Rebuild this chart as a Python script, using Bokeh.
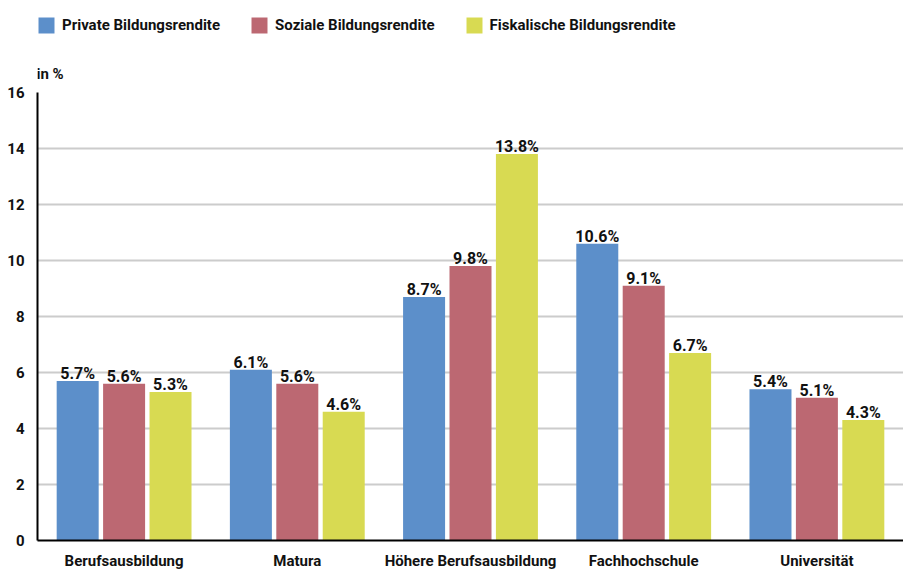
from bokeh.plotting import figure
from bokeh.models import ColumnDataSource, Legend, LegendItem, FactorRange, Label
from bokeh.layouts import column
from bokeh.transform import dodge
from bokeh.core.properties import value
from bokeh.embed import file_html
from bokeh.resources import INLINE

categories = ["Berufsausbildung", "Matura", "Höhere Berufsausbildung", "Fachhochschule", "Universität"]
private = [5.7, 6.1, 8.7, 10.6, 5.4]
sozial = [5.6, 5.6, 9.8, 9.1, 5.1]
fiskal = [5.3, 4.6, 13.8, 6.7, 4.3]
series_names = ["Private Bildungsrendite", "Soziale Bildungsrendite", "Fiskalische Bildungsrendite"]
colors = ["#5C8FCA", "#BC6872", "#D8DA52"]
y_ticks = [0, 2, 4, 6, 8, 10, 12, 14, 16]
unit_label = "in %"

FONT = "Roboto"
TXT = "#111111"

src = ColumnDataSource(data=dict(
    cat=categories,
    private=private, sozial=sozial, fiskal=fiskal,
    private_lbl=[f"{v:.1f}%" for v in private],
    sozial_lbl=[f"{v:.1f}%" for v in sozial],
    fiskal_lbl=[f"{v:.1f}%" for v in fiskal],
))
keys = ["private", "sozial", "fiskal"]

# ---- header figure: legend + unit label ----
head = figure(width=903, height=82, x_range=FactorRange(*categories), y_range=(100, 101),
              output_backend="svg", toolbar_location=None,
              x_axis_location=None, y_axis_location=None,
              min_border_left=37, min_border_right=0, min_border_top=0, min_border_bottom=0)
head.outline_line_color = None
head.xgrid.grid_line_color = None
head.ygrid.grid_line_color = None

proxies = []
for key, col in zip(keys, colors):
    r = head.vbar(x="cat", top=key, width=0.2, source=src, fill_color=col, line_color=None)
    r.visible = False
    proxies.append(r)

legend = Legend(items=[LegendItem(label=n, renderers=[r]) for n, r in zip(series_names, proxies)],
                orientation="horizontal", location=(-1, 47),
                glyph_width=20, glyph_height=20, label_standoff=6, spacing=29,
                padding=0, margin=0, border_line_color=None, background_fill_alpha=0,
                inactive_fill_alpha=0,
                label_text_font=FONT, label_text_font_size="15px", label_text_font_style="bold",
                label_text_color=TXT, label_height=20)
head.add_layout(legend, "center")

head.add_layout(Label(x=-1, y=9, x_units="screen", y_units="screen", text=unit_label,
                      text_font=FONT, text_font_size="15px", text_font_style="bold",
                      text_color=TXT, text_baseline="middle", text_align="left"))

# ---- main chart ----
p = figure(x_range=FactorRange(*categories, range_padding=0), y_range=(0, 16),
           width=903, height=490, output_backend="svg", toolbar_location=None,
           min_border_left=37, min_border_right=0, min_border_top=10, min_border_bottom=30)
p.x_range.range_padding = 0
p.outline_line_color = None

offsets = [-0.268, 0.0, 0.268]
for off, key, col in zip(offsets, keys, colors):
    p.vbar(x=dodge("cat", off, range=p.x_range), top=key, width=0.2425,
           source=src, fill_color=col, line_color=None)
    p.text(x=dodge("cat", off, range=p.x_range), y=key, text=key + "_lbl", source=src,
           text_align="center", text_baseline="bottom", y_offset=2,
           text_font=value(FONT), text_font_size="16px", text_font_style="bold",
           text_color=TXT)

p.yaxis.ticker = y_ticks
p.yaxis.major_tick_line_color = None
p.yaxis.minor_tick_line_color = None
p.yaxis.major_tick_out = 0
p.yaxis.major_tick_in = 0
p.yaxis.minor_tick_out = 0
p.yaxis.axis_line_color = "black"
p.yaxis.axis_line_width = 2
p.yaxis.major_label_standoff = 13
p.yaxis.major_label_text_font = FONT
p.yaxis.major_label_text_font_size = "15px"
p.yaxis.major_label_text_font_style = "bold"
p.yaxis.major_label_text_color = TXT

p.xaxis.major_tick_line_color = None
p.xaxis.minor_tick_line_color = None
p.xaxis.major_tick_out = 0
p.xaxis.major_tick_in = 0
p.xaxis.minor_tick_out = 0
p.xaxis.axis_line_color = "black"
p.xaxis.axis_line_width = 2
p.xaxis.major_label_standoff = 11
p.xaxis.major_label_text_font = FONT
p.xaxis.major_label_text_font_size = "15px"
p.xaxis.major_label_text_font_style = "bold"
p.xaxis.major_label_text_color = TXT

p.xgrid.grid_line_color = None
p.ygrid.grid_line_color = "#cccccc"
p.ygrid.grid_line_width = 2

layout = column(head, p, spacing=0)
open("out.html", "w").write(file_html(layout, INLINE))
